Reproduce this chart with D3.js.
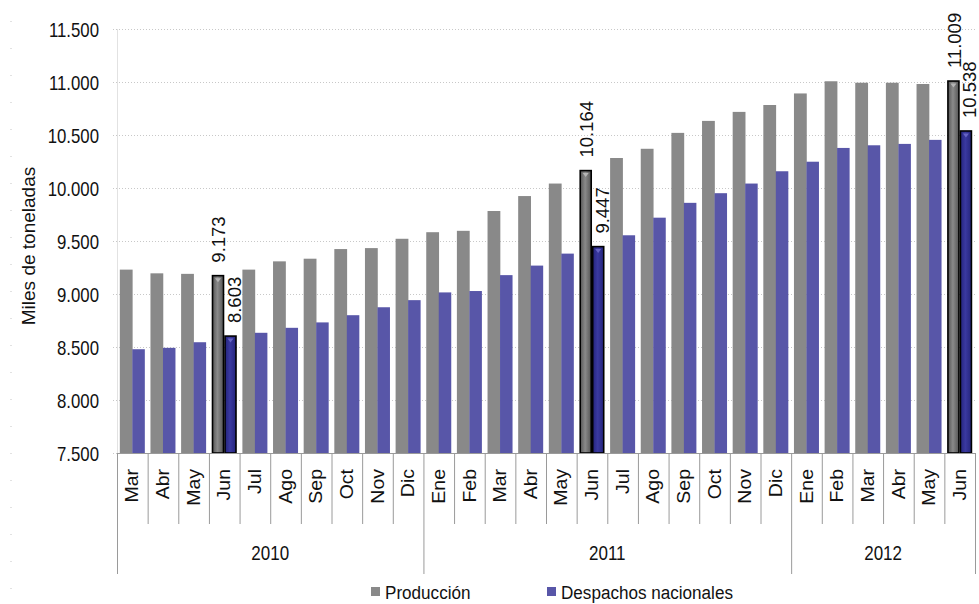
<!DOCTYPE html>
<html>
<head>
<meta charset="utf-8">
<script src="https://cdn.jsdelivr.net/npm/d3@7"></script>
<style>
  html, body { margin: 0; padding: 0; background: #fff; }
  svg { display: block; font-family: "Liberation Sans", Arial, sans-serif; }
</style>
</head>
<body>
<svg id="chart" width="979" height="604"></svg>
<script>
// ---- data ----
const months = ["Mar","Abr","May","Jun","Jul","Ago","Sep","Oct","Nov","Dic",
                "Ene","Feb","Mar","Abr","May","Jun","Jul","Ago","Sep","Oct","Nov","Dic",
                "Ene","Feb","Mar","Abr","May","Jun"];
const yearLabels = ["2010","2011","2012"];
const yearCounts = [10, 12, 6];
const produccion = [9230,9195,9190,9173,9230,9308,9333,9424,9433,9521,
                    9583,9596,9783,9924,10042,10164,10283,10370,10520,10633,10718,10783,
                    10892,11007,10993,10993,10981,11009];
const despachos  = [8479,8492,8545,8603,8634,8681,8732,8800,8875,8942,
                    9015,9028,9178,9268,9381,9447,9554,9720,9860,9951,10042,10158,
                    10248,10378,10403,10416,10454,10538];
const highlighted = [3, 15, 27];
const yTicks = [7500,8000,8500,9000,9500,10000,10500,11000,11500];
const seriesNames = ["Producción","Despachos nacionales"];
const yTitle = "Miles de toneladas";

// ---- layout ----
const svg = d3.select("#chart");
const L = 117, R = 975, T = 29, B = 453;
const locale = d3.formatLocale({decimal: ",", thousands: ".", grouping: [3], currency: ["", ""]});
const fmt = locale.format(",.0f");

const y = d3.scaleLinear().domain([7500, 11500]).range([B, T]);
const idx = d3.range(months.length);
const xCat = d3.scaleBand().domain(idx).range([L, R]).paddingInner(0).paddingOuter(0);
const xBar = d3.scaleBand().domain(idx).range([L, R]).paddingInner(0.184).paddingOuter(0.092);
const xSer = d3.scaleBand().domain([0, 1]).range([0, xBar.bandwidth()]);

const defs = svg.append("defs");
function grad(id, edge, mid) {
  const g = defs.append("linearGradient").attr("id", id).attr("x1", "0").attr("x2", "1").attr("y1", "0").attr("y2", "0");
  g.append("stop").attr("offset", "0").attr("stop-color", edge);
  g.append("stop").attr("offset", "0.45").attr("stop-color", mid);
  g.append("stop").attr("offset", "1").attr("stop-color", edge);
}
grad("gGray", "#555555", "#8a8a8a");
grad("gBlue", "#24247c", "#3a39a0");

// faint dots on the far left
svg.append("g").selectAll("rect").data(d3.range(21, 600, 27)).join("rect")
  .attr("x", 10.5).attr("y", d => d).attr("width", 1).attr("height", 1).attr("fill", "#c4c4c4");

// gridlines
svg.append("g").attr("transform", `translate(${L},0)`)
  .call(d3.axisLeft(y).tickValues(yTicks).tickSize(-(R - L) - 6).tickFormat(""))
  .attr("transform", `translate(${R},0)`)
  .call(g => g.select(".domain").remove())
  .call(g => g.selectAll(".tick line").attr("stroke", "#c8c8c8").attr("stroke-dasharray", "1,2").attr("x2", -(R - L) - 6));

// vertical value axis line
svg.append("line").attr("x1", L + 0.5).attr("x2", L + 0.5).attr("y1", T).attr("y2", B)
  .attr("stroke", "#e2e2e2").attr("stroke-width", 1);

// y tick labels
const yAx = svg.append("g").attr("transform", `translate(${L},0)`)
  .call(d3.axisLeft(y).tickValues(yTicks).tickSize(0).tickFormat(fmt));
yAx.select(".domain").remove();
yAx.selectAll(".tick text")
  .attr("font-family", "Liberation Sans, Arial, sans-serif")
  .attr("font-size", 20).attr("fill", "#111")
  .attr("x", -18 / 0.84).attr("dy", "0.35em")
  .attr("transform", "scale(0.84,1)");

// bars
const series = [produccion, despachos];
const normalFill = ["#898989", "#5856a8"];
const hiFill = ["url(#gGray)", "url(#gBlue)"];
const triFill = ["#b5b5b5", "#6664c4"];
series.forEach((vals, s) => {
  const g = svg.append("g");
  g.selectAll("rect").data(idx).join("rect")
    .attr("x", i => xBar(i) + xSer(s) + (highlighted.includes(i) ? 0.75 : 0))
    .attr("width", i => xSer.bandwidth() - (highlighted.includes(i) ? 1.5 : 0) + (s === 0 && !highlighted.includes(i) ? 0.3 : 0))
    .attr("y", i => y(vals[i]))
    .attr("height", i => B - y(vals[i]))
    .attr("fill", i => highlighted.includes(i) ? hiFill[s] : normalFill[s])
    .attr("stroke", i => highlighted.includes(i) ? "#000" : "none")
    .attr("stroke-width", 1.6);
  // small markers on highlighted bars
  g.selectAll("path").data(highlighted).join("path")
    .attr("d", i => {
      const cx = xBar(i) + xSer(s) + xSer.bandwidth() / 2;
      const ty = y(vals[i]) + 2.5;
      return `M${cx - 3},${ty}L${cx + 3},${ty}L${cx},${ty + 4}Z`;
    })
    .attr("fill", triFill[s]);
  // data labels
  g.selectAll("text").data(highlighted).join("text")
    .attr("transform", i => {
      const cx = xBar(i) + xSer(s) + xSer.bandwidth() / 2 + (s === 0 ? 1 : 4);
      return `translate(${cx},${y(vals[i]) - 13}) rotate(-90)`;
    })
    .attr("text-anchor", "start").attr("dy", "0.35em")
    .attr("font-size", 18.5).attr("fill", "#111")
    .text(i => fmt(vals[i]));
});

// category axis
const axG = svg.append("g");
axG.append("line").attr("x1", L).attr("x2", R).attr("y1", B + 0.5).attr("y2", B + 0.5)
  .attr("stroke", "#9a9a9a");
// month separators
axG.selectAll("line.m").data(d3.range(months.length + 1)).join("line").attr("class", "m")
  .attr("x1", i => (i < months.length ? xCat(i) : R) + 0.5)
  .attr("x2", i => (i < months.length ? xCat(i) : R) + 0.5)
  .attr("y1", B).attr("y2", 524)
  .attr("stroke", "#9a9a9a");
// year separators
const yearStarts = yearCounts.reduce((a, c) => { a.push(a[a.length - 1] + c); return a; }, [0]);
axG.selectAll("line.y").data(yearStarts).join("line").attr("class", "y")
  .attr("x1", i => (i < months.length ? xCat(i) : R) + 0.5)
  .attr("x2", i => (i < months.length ? xCat(i) : R) + 0.5)
  .attr("y1", 524).attr("y2", 574)
  .attr("stroke", "#9a9a9a");
// month labels
axG.selectAll("text.m").data(idx).join("text").attr("class", "m")
  .attr("transform", i => `translate(${xCat(i) + xCat.bandwidth() / 2},469) scale(0.9,1) rotate(-90)`)
  .attr("text-anchor", "end").attr("dy", "0.35em")
  .attr("font-size", 19.5).attr("fill", "#111")
  .text(i => months[i]);
// year labels
axG.selectAll("text.y").data(yearLabels).join("text").attr("class", "y")
  .attr("transform", (d, k) => {
    const x0 = xCat(yearStarts[k]);
    const x1 = yearStarts[k + 1] < months.length ? xCat(yearStarts[k + 1]) : R;
    return `translate(${(x0 + x1) / 2},560) scale(0.85,1)`;
  })
  .attr("text-anchor", "middle").attr("font-size", 20).attr("fill", "#111")
  .text(d => d);

// y title
svg.append("text").attr("transform", "translate(28.5,246) rotate(-90)")
  .attr("text-anchor", "middle").attr("dy", "0.35em")
  .attr("font-size", 19).attr("fill", "#111").text(yTitle);

// legend
const legX = [371, 547];
const leg = svg.append("g");
seriesNames.forEach((name, s) => {
  leg.append("rect").attr("x", legX[s]).attr("y", 587).attr("width", 9).attr("height", 9)
    .attr("fill", normalFill[s]);
  leg.append("text").attr("transform", `translate(${legX[s] + 14},599) scale(0.9,1)`)
    .attr("font-size", 19).attr("fill", "#111").text(name);
});
</script>
</body>
</html>
